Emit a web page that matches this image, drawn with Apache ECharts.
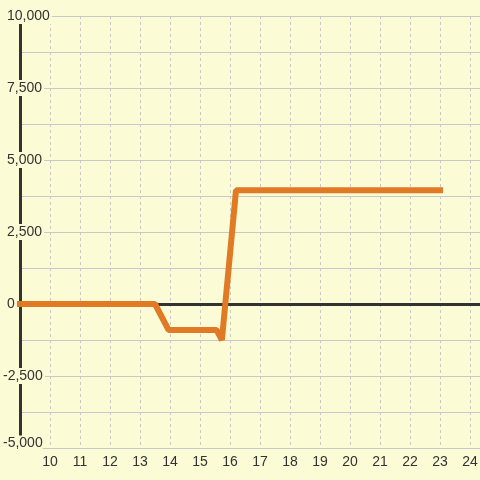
<!DOCTYPE html>
<html>
<head>
<meta charset="utf-8">
<script src="https://cdn.jsdelivr.net/npm/echarts@6/dist/echarts.min.js"></script>
<style>
  html, body { margin: 0; padding: 0; background: #fbfbd5; }
  #chart { width: 480px; height: 480px; }
</style>
</head>
<body>
<div id="chart"></div>
<script>
// values
var xValues = [9, 13.5, 13.95, 15.55, 15.73, 16.2, 23];
var yValues = [0, 0, -900, -900, -1250, 3950, 3950];

var xMin = 9, xMax = 24.333;
var yMin = -5000, yMax = 10000;

var points = [];
for (var i = 0; i < xValues.length; i++) {
    points.push([xValues[i], yValues[i]]);
}

function addCommas(v) {
    return String(v).replace(/\B(?=(\d{3})+(?!\d))/g, ',');
}

var bg = '#fbfbd5';
var font = { color: '#333', fontSize: 14, fontFamily: 'Liberation Sans' };

// same scale on every y axis: one for the grid, one for the line, one for the labels
function yAxisBase(extra) {
    var a = {
        type: 'value',
        min: yMin,
        max: yMax,
        interval: 2500,
        position: 'left',
        offset: 0,
        axisLine: { show: false },
        axisTick: { show: false },
        axisLabel: { show: false },
        splitLine: { show: false }
    };
    for (var k in extra) a[k] = extra[k];
    return a;
}

function richStyle(pad) {
    return { color: font.color, fontSize: font.fontSize, fontFamily: font.fontFamily, padding: pad };
}

var option = {
    backgroundColor: bg,
    animation: false,
    grid: { left: 20, right: 0, top: 16, bottom: 32, outerBoundsMode: 'none' },
    xAxis: [
        {
            type: 'value',
            min: xMin,
            max: xMax,
            interval: 1,
            axisLine: { show: false, onZero: false },
            axisTick: { show: false },
            axisLabel: {
                color: font.color,
                fontSize: font.fontSize,
                fontFamily: font.fontFamily,
                margin: 7,
                formatter: function (v) {
                    if (v < 10 || v > 24 || v % 1 !== 0) return '';
                    return v;
                }
            },
            splitLine: {
                lineStyle: { color: '#c8c8c8', type: [3, 3], width: 1 }
            }
        },
        {
            type: 'value',
            min: xMin,
            max: xMax,
            axisLine: { show: true, onZero: true, lineStyle: { color: '#333', width: 3 } },
            axisTick: { show: false },
            axisLabel: { show: false },
            splitLine: { show: false }
        }
    ],
    yAxis: [
        yAxisBase({
            z: 0,
            splitLine: { show: true, lineStyle: { color: '#c8c8c8', width: 1 } },
            minorTick: { show: false, splitNumber: 2 },
            minorSplitLine: { show: true, lineStyle: { color: '#c8c8c8', width: 1 } }
        }),
        yAxisBase({
            z: 3,
            axisLine: { show: true, onZero: false, lineStyle: { color: '#333', width: 3 } }
        }),
        yAxisBase({
            z: 10,
            axisLabel: {
                show: true,
                color: font.color,
                fontSize: font.fontSize,
                fontFamily: font.fontFamily,
                align: 'left',
                margin: 19,
                padding: [1, 0, 1, 2],
                backgroundColor: bg,
                formatter: function (v) {
                    var s = addCommas(v);
                    if (v === yMin) return '{m|' + s + '}';
                    return v < 0 ? '{n|' + s + '}' : '{p|' + s + '}';
                },
                rich: {
                    n: richStyle([0, 2, 0, 0]),
                    p: richStyle([0, 2, 0, 4]),
                    m: richStyle([0, 0, 9, 0])
                }
            }
        })
    ],
    series: [
        {
            type: 'line',
            xAxisIndex: 0,
            yAxisIndex: 0,
            data: points,
            showSymbol: false,
            clip: false,
            lineStyle: { color: '#e07a25', width: 6, cap: 'square' },
            itemStyle: { color: '#e07a25' }
        }
    ]
};

var chart = echarts.init(document.getElementById('chart'));
chart.setOption(option);
</script>
</body>
</html>
